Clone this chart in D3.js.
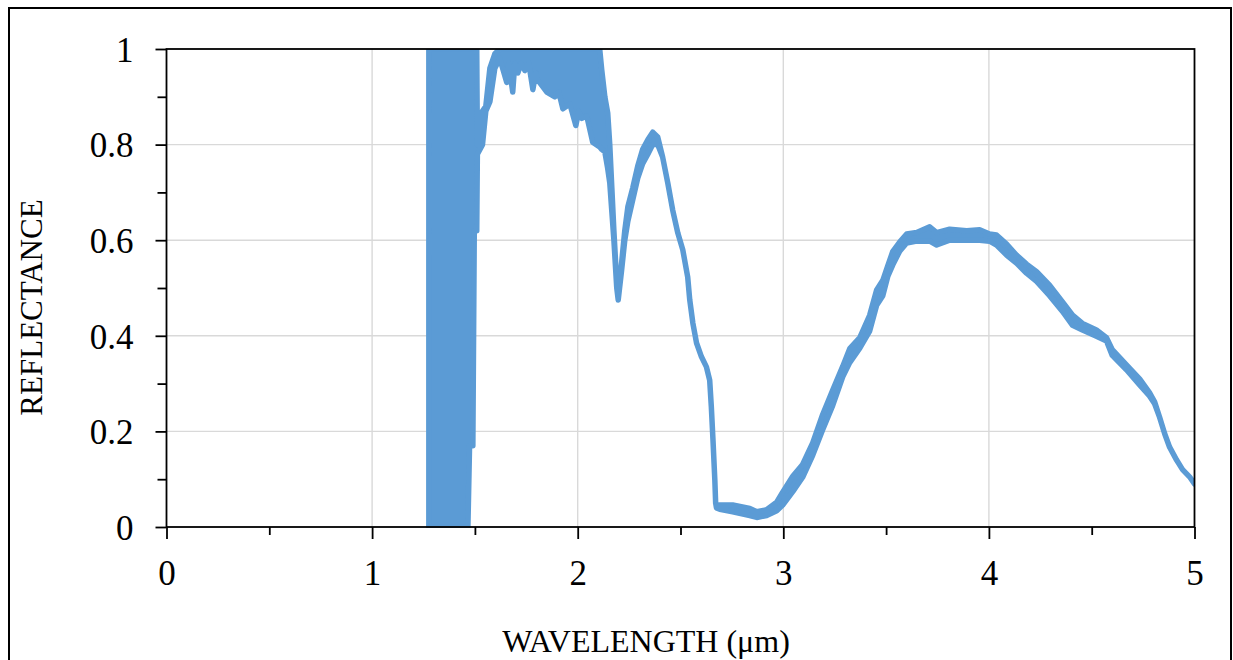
<!DOCTYPE html>
<html>
<head>
<meta charset="utf-8">
<script src="https://d3js.org/d3.v7.min.js"></script>
<style>
  body { margin: 0; background: #fff; }
  svg { display: block; font-family: "Liberation Serif", "Times New Roman", serif; }
</style>
</head>
<body>
<svg id="chart" width="1233" height="660"></svg>
<script>
// Wavelength (um) and the low / high edge of the noisy reflectance trace
const wavelength = [
  1.276, 1.466, 1.474, 1.49, 1.497, 1.509, 1.512, 1.537, 1.553, 1.573, 1.597, 1.621,
  1.655, 1.665, 1.684, 1.694, 1.709, 1.724, 1.743, 1.762, 1.782, 1.796, 1.806, 1.85,
  1.889, 1.908, 1.928, 1.962, 1.991, 2.005, 2.02, 2.044, 2.073, 2.107, 2.117, 2.132,
  2.146, 2.156, 2.166, 2.176, 2.19, 2.197, 2.213, 2.229, 2.244, 2.268, 2.292, 2.316,
  2.341, 2.365, 2.389, 2.413, 2.438, 2.462, 2.487, 2.511, 2.535, 2.545, 2.56, 2.578,
  2.602, 2.626, 2.642, 2.65, 2.658, 2.667, 2.671, 2.675, 2.691, 2.754, 2.837, 2.871,
  2.919, 2.968, 2.997, 3.046, 3.094, 3.143, 3.192, 3.24, 3.289, 3.323, 3.372, 3.42,
  3.454, 3.484, 3.508, 3.532, 3.566, 3.6, 3.649, 3.712, 3.746, 3.809, 3.892, 3.955,
  4.003, 4.037, 4.086, 4.134, 4.183, 4.232, 4.295, 4.358, 4.407, 4.455, 4.523, 4.572,
  4.6, 4.669, 4.733, 4.781, 4.806, 4.83, 4.855, 4.879, 4.913, 4.942, 4.976, 5.0
];
const reflLow = [
  0, 0, 0.17, 0.17, 0.62, 0.62, 0.78, 0.8, 0.87, 0.89, 0.96, 0.98,
  0.93, 0.97, 0.91, 0.97, 0.95, 0.97, 0.955, 0.97, 0.915, 0.95, 0.935, 0.91,
  0.9, 0.91, 0.875, 0.885, 0.84, 0.87, 0.855, 0.86, 0.805, 0.795, 0.79, 0.785,
  0.75, 0.72, 0.66, 0.6, 0.5, 0.475, 0.535, 0.6, 0.64, 0.685, 0.73, 0.76,
  0.78, 0.8, 0.8, 0.774, 0.72, 0.663, 0.615, 0.58, 0.523, 0.475, 0.427, 0.385,
  0.356, 0.335, 0.307, 0.251, 0.182, 0.098, 0.05, 0.04, 0.037, 0.032, 0.024, 0.02,
  0.024, 0.034, 0.046, 0.074, 0.104, 0.15, 0.204, 0.254, 0.314, 0.344, 0.374, 0.41,
  0.464, 0.484, 0.524, 0.548, 0.577, 0.594, 0.598, 0.598, 0.59, 0.6, 0.6, 0.6,
  0.598, 0.59, 0.569, 0.552, 0.531, 0.514, 0.484, 0.451, 0.422, 0.412, 0.399, 0.389,
  0.359, 0.329, 0.297, 0.274, 0.258, 0.23, 0.195, 0.167, 0.14, 0.12, 0.105, 0.09
];
const reflHigh = [
  1, 1, 1, 1, 1, 1, 0.8, 0.87, 0.88, 0.96, 0.99, 1,
  1, 1, 1, 1, 1, 1, 1, 1, 1, 1, 1, 1,
  1, 1, 1, 1, 1, 1, 1, 1, 1, 1, 0.956, 0.9,
  0.866, 0.8, 0.71, 0.62, 0.51, 0.475, 0.55, 0.62, 0.67, 0.71, 0.755, 0.79,
  0.81, 0.826, 0.816, 0.774, 0.72, 0.663, 0.615, 0.58, 0.523, 0.475, 0.427, 0.385,
  0.356, 0.335, 0.307, 0.251, 0.182, 0.098, 0.05, 0.045, 0.046, 0.046, 0.039, 0.032,
  0.036, 0.052, 0.073, 0.106, 0.131, 0.176, 0.236, 0.286, 0.336, 0.373, 0.396, 0.443,
  0.496, 0.516, 0.546, 0.576, 0.596, 0.613, 0.616, 0.628, 0.616, 0.623, 0.62, 0.622,
  0.613, 0.611, 0.592, 0.569, 0.55, 0.534, 0.506, 0.471, 0.443, 0.426, 0.412, 0.396,
  0.371, 0.339, 0.31, 0.281, 0.262, 0.23, 0.195, 0.167, 0.14, 0.12, 0.105, 0.09
];

const xMajor = [0, 1, 2, 3, 4, 5];
const xMinor = [0.5, 1.5, 2.5, 3.5, 4.5];
const yMajor = [0, 0.2, 0.4, 0.6, 0.8, 1];
const yMinor = [0.1, 0.3, 0.5, 0.7, 0.9];

const svg = d3.select("#chart");
const plot = { left: 166.5, right: 1194.5, top: 49, bottom: 527 };
const blue = "#5b9bd5";

const x = d3.scaleLinear().domain([0, 5]).range([plot.left, plot.right]);
const y = d3.scaleLinear().domain([0, 1]).range([plot.bottom, plot.top]);

// outer frame
svg.append("rect")
  .attr("x", 9).attr("y", 8).attr("width", 1222).attr("height", 700)
  .attr("fill", "none").attr("stroke", "#000").attr("stroke-width", 2);

// grid
svg.append("g")
  .selectAll("line")
  .data(yMajor.filter((d) => d > 0 && d < 1))
  .join("line")
  .attr("x1", plot.left).attr("x2", plot.right)
  .attr("y1", (d) => y(d)).attr("y2", (d) => y(d))
  .attr("stroke", "#d9d9d9").attr("stroke-width", 1.4);

svg.append("g")
  .selectAll("line")
  .data(xMajor.filter((d) => d > 0 && d < 5))
  .join("line")
  .attr("y1", plot.top).attr("y2", plot.bottom)
  .attr("x1", (d) => x(d)).attr("x2", (d) => x(d))
  .attr("stroke", "#d9d9d9").attr("stroke-width", 1.4);

// clip for the trace
svg.append("clipPath").attr("id", "plotClip")
  .append("rect")
  .attr("x", plot.left).attr("y", plot.top)
  .attr("width", plot.right - plot.left).attr("height", plot.bottom - plot.top + 1);

const band = d3.area()
  .x((d, i) => x(wavelength[i]))
  .y0((d, i) => y(reflLow[i]))
  .y1((d, i) => y(reflHigh[i]));

svg.append("path")
  .attr("clip-path", "url(#plotClip)")
  .attr("d", band(wavelength))
  .attr("fill", blue)
  .attr("stroke", blue)
  .attr("stroke-width", 5.5)
  .attr("stroke-linejoin", "round");

// plot border
svg.append("rect")
  .attr("x", plot.left).attr("y", plot.top)
  .attr("width", plot.right - plot.left).attr("height", plot.bottom - plot.top)
  .attr("fill", "none").attr("stroke", "#000").attr("stroke-width", 1.8);

// axes
const xAxisMajor = d3.axisBottom(x).tickValues(xMajor).tickSize(12).tickFormat(d3.format("d"));
const xAxisMinor = d3.axisBottom(x).tickValues(xMinor).tickSize(8).tickFormat("");
const yAxisMajor = d3.axisLeft(y).tickValues(yMajor).tickSize(11).tickFormat((d) => (d === 0 || d === 1) ? d3.format("d")(d) : d3.format(".1f")(d));
const yAxisMinor = d3.axisLeft(y).tickValues(yMinor).tickSize(9).tickFormat("");

function styleAxis(g) {
  g.select(".domain").remove();
  g.selectAll(".tick line").attr("stroke", "#000").attr("stroke-width", 1.8);
  g.selectAll(".tick text")
    .attr("fill", "#000")
    .style("font-family", "'Liberation Serif', 'Times New Roman', serif")
    .style("font-size", "35px");
}

svg.append("g").attr("transform", `translate(0,${plot.bottom})`).call(xAxisMajor).call(styleAxis)
  .selectAll(".tick text").attr("y", 0).attr("dy", 0).attr("transform", "translate(0,58)");
svg.append("g").attr("transform", `translate(0,${plot.bottom})`).call(xAxisMinor).call(styleAxis);
svg.append("g").attr("transform", `translate(${plot.left},0)`).call(yAxisMajor).call(styleAxis)
  .selectAll(".tick text").attr("x", -33).attr("dy", "0.35em");
svg.append("g").attr("transform", `translate(${plot.left},0)`).call(yAxisMinor).call(styleAxis);

// axis titles
svg.append("text")
  .attr("x", 646).attr("y", 652)
  .attr("text-anchor", "middle")
  .style("font-size", "32px")
  .text("WAVELENGTH (μm)");

svg.append("text")
  .attr("transform", "translate(42,307.5) rotate(-90)")
  .attr("text-anchor", "middle")
  .style("font-size", "31px")
  .text("REFLECTANCE");
</script>
</body>
</html>
